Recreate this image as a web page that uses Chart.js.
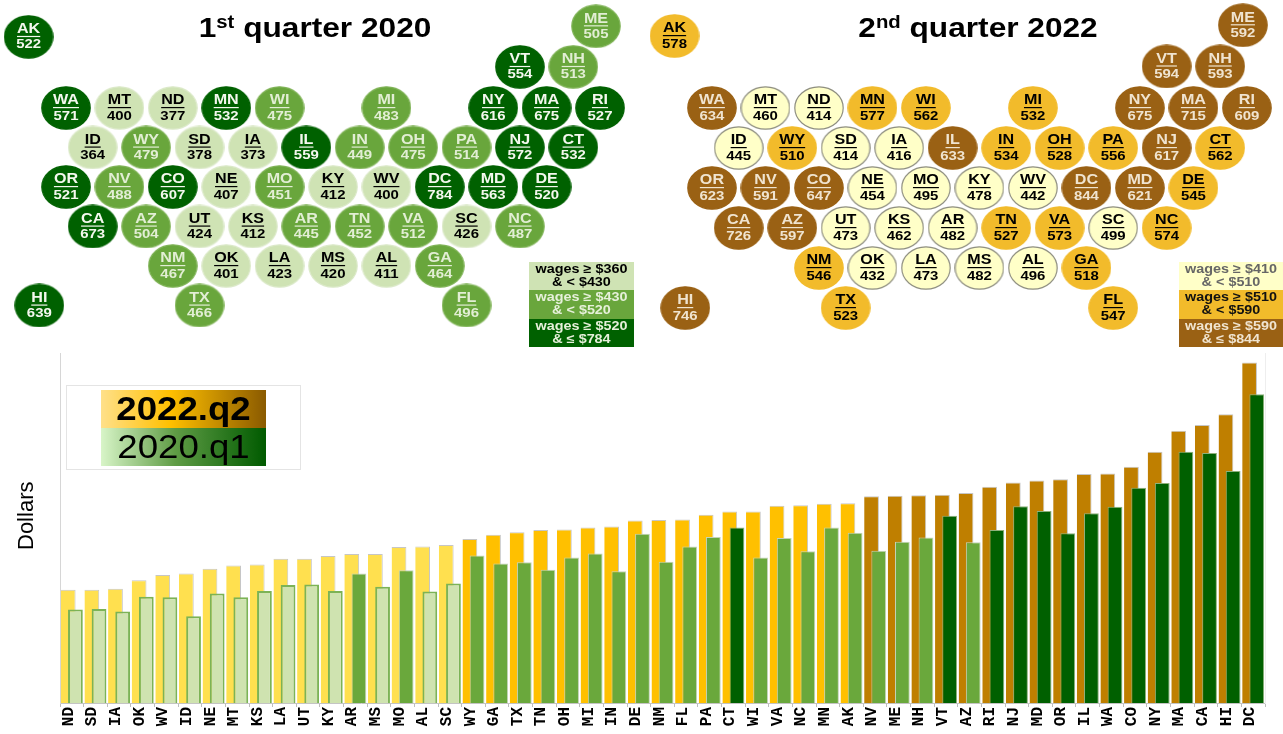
<!DOCTYPE html>
<html>
<head>
<meta charset="utf-8">
<title>Wages by state</title>
<script src="https://cdn.jsdelivr.net/npm/chart.js@4"></script>
<style>
    html, body { margin: 0; background: #fff; }
    #page { position: relative; width: 1283px; height: 734px; overflow: hidden; font-family: "Liberation Sans", Arial, sans-serif; }
    canvas { position: absolute; display: block; }
    h2 { position: absolute; top: 9px; margin: 0; width: 300px; text-align: center; font-size: 28px; line-height: 38px; font-weight: bold; color: #000; transform: scaleX(1.13); white-space: nowrap; }
    h2 sup { font-size: 18px; line-height: 0; vertical-align: 9px; }
    .wage-key { position: absolute; top: 262px; width: 105px; height: 85px; font-weight: bold; font-size: 12.5px; line-height: 13px; text-align: center; }
    .wage-key div { height: 28.33px; box-sizing: border-box; padding-top: 1px; }
    .wage-key span { display: block; transform: scaleX(1.15); white-space: nowrap; }
    #period-key { position: absolute; left: 66px; top: 385px; width: 235px; height: 85px; box-sizing: border-box; border: 1px solid #e4e4e4; }
    #period-key div { position: absolute; left: 34px; width: 165px; height: 38px; line-height: 38px; text-align: center; font-size: 33px; color: #000; }
    #period-key span { display: block; transform: scaleX(1.11); }
</style>
</head>
<body>
<div id="page">
    <canvas id="map-2020" width="640" height="350" style="left:0;top:0"></canvas>
    <canvas id="map-2022" width="643" height="350" style="left:640px;top:0"></canvas>
    <canvas id="bars" width="1283" height="384" style="left:0;top:350px"></canvas>

    <h2 style="left:165px">1<sup>st</sup> quarter 2020</h2>
    <h2 style="left:828px">2<sup>nd</sup> quarter 2022</h2>

    <div class="wage-key" style="left:529px">
        <div style="background:#cfe3b4;color:#000"><span>wages ≥ $360</span><span>&amp; &lt; $430</span></div>
        <div style="background:#69a63c;color:#e6f0da"><span>wages ≥ $430</span><span>&amp; &lt; $520</span></div>
        <div style="background:#006100;color:#e6f0da"><span>wages ≥ $520</span><span>&amp; ≤ $784</span></div>
    </div>
    <div class="wage-key" style="left:1179px;width:104px">
        <div style="background:#ffffc8;color:#666"><span>wages ≥ $410</span><span>&amp; &lt; $510</span></div>
        <div style="background:#f2bb2b;color:#111"><span>wages ≥ $510</span><span>&amp; &lt; $590</span></div>
        <div style="background:#9a6114;color:#f0e4d0"><span>wages ≥ $590</span><span>&amp; ≤ $844</span></div>
    </div>

    <div id="period-key">
        <div style="top:4px;font-weight:bold;background:linear-gradient(90deg,#ffe08a,#ffc000 42%,#8a5a00)"><span>2022.q2</span></div>
        <div style="top:42px;background:linear-gradient(90deg,#d8f5c8,#5f9c45 45%,#005a00)"><span>2020.q1</span></div>
    </div>
</div>

<script>
// Datos: estados ordenados por salario del 2o trimestre 2022
const states = ['ND','SD','IA','OK','WV','ID','NE','MT','KS','LA','UT','KY','AR','MS','MO','AL','SC',
    'WY','GA','TX','TN','OH','MI','IN','DE','NM','FL','PA','CT','WI','VA','NC','MN','AK',
    'NV','ME','NH','VT','AZ','RI','NJ','MD','OR','IL','WA','CO','NY','MA','CA','HI','DC'];
const wages2020 = [377,378,373,401,400,364,407,400,412,423,424,412,445,420,451,411,426,
    479,464,466,452,475,483,449,520,467,496,514,532,475,512,487,532,522,
    488,505,513,554,504,527,572,563,521,559,571,607,616,675,673,639,784];
const wages2022 = [414,414,416,432,442,445,454,460,462,473,473,478,482,482,495,496,499,
    510,518,523,527,528,532,534,545,546,547,556,562,562,573,574,577,578,
    591,592,593,594,597,609,617,621,623,633,634,647,675,715,726,746,844];

// Limites de las clases de salario de cada mapa
const breaks2020 = [430, 520];
const breaks2022 = [510, 590];
// En las barras estos estados aparecen en la clase media aunque el mapa los pone en la alta
const midBarStates2020 = ['DE', 'MN', 'AK'];

// Celda de cada estado en el mapa de mosaicos [columna, fila]
const tileCells = {
    AK: [-1.4, -1.8], ME: [19.85, -2.07], VT: [17, -1.04], NH: [19, -1.04],
    WA: [0, 0], MT: [2, 0], ND: [4, 0], MN: [6, 0], WI: [8, 0], MI: [12, 0], NY: [16, 0], MA: [18, 0], RI: [20, 0],
    ID: [1, 1], WY: [3, 1], SD: [5, 1], IA: [7, 1], IL: [9, 1], IN: [11, 1], OH: [13, 1], PA: [15, 1], NJ: [17, 1], CT: [19, 1],
    OR: [0, 2], NV: [2, 2], CO: [4, 2], NE: [6, 2], MO: [8, 2], KY: [10, 2], WV: [12, 2], DC: [14, 2], MD: [16, 2], DE: [18, 2],
    CA: [1, 3], AZ: [3, 3], UT: [5, 3], KS: [7, 3], AR: [9, 3], TN: [11, 3], VA: [13, 3], SC: [15, 3], NC: [17, 3],
    NM: [4, 4], OK: [6, 4], LA: [8, 4], MS: [10, 4], AL: [12, 4], GA: [14, 4],
    HI: [-1, 5], TX: [5, 5], FL: [15, 5]
};

function tierOf(value, breaks) {
    if (value < breaks[0]) return 0;
    return value < breaks[1] ? 1 : 2;
}

// Elipse para cada clase: el original esta estirado en horizontal
function makeTile(fill, stroke) {
    const c = document.createElement('canvas');
    c.width = 50;
    c.height = 44;
    const ctx = c.getContext('2d');
    ctx.beginPath();
    ctx.ellipse(25, 22, 24.2, 21.2, 0, 0, Math.PI * 2);
    ctx.fillStyle = fill;
    ctx.fill();
    ctx.lineWidth = 1.2;
    ctx.strokeStyle = stroke;
    ctx.stroke();
    return c;
}

// Texto de cada mosaico: abreviatura subrayada y salario
const tileLabels = {
    id: 'tileLabels',
    afterDatasetsDraw(chart, args, opts) {
        const ctx = chart.ctx;
        const meta = chart.getDatasetMeta(0);
        const rows = chart.data.datasets[0].data;
        ctx.save();
        ctx.textAlign = 'center';
        ctx.textBaseline = 'middle';
        meta.data.forEach((tile, i) => {
            ctx.save();
            ctx.translate(tile.x, tile.y);
            ctx.scale(1.15, 1);
            ctx.fillStyle = opts.textColors[rows[i].tier];
            ctx.font = 'bold 14px "Liberation Sans"';
            ctx.fillText(rows[i].state, 0, -7.5);
            const w = ctx.measureText(rows[i].state).width;
            ctx.fillRect(-w / 2, -1, w, 1.2);
            ctx.font = 'bold 13px "Liberation Sans"';
            ctx.fillText(String(rows[i].wage), 0, 8);
            ctx.restore();
        });
        ctx.restore();
    }
};

function drawMap(canvasId, wages, breaks, tiles, textColors, xRange, yRange) {
    const rows = states.map((state, i) => ({
        x: tileCells[state][0],
        y: tileCells[state][1],
        state: state,
        wage: wages[i],
        tier: tierOf(wages[i], breaks)
    }));
    return new Chart(document.getElementById(canvasId), {
        type: 'scatter',
        data: {
            datasets: [{
                data: rows,
                pointStyle: rows.map(r => tiles[r.tier]),
                pointRadius: 20,
                clip: false
            }]
        },
        options: {
            responsive: false,
            animation: false,
            events: [],
            layout: { padding: 0, autoPadding: false },
            plugins: { legend: { display: false }, tooltip: { enabled: false }, tileLabels: { textColors: textColors } },
            scales: {
                x: { display: false, min: xRange[0], max: xRange[1] },
                y: { display: false, reverse: true, min: yRange[0], max: yRange[1] }
            }
        },
        plugins: [tileLabels]
    });
}

drawMap('map-2020', wages2020, breaks2020,
    [makeTile('#cfe3b4', '#dbe9c8'), makeTile('#69a63c', '#7fb356'), makeTile('#006100', '#006100')],
    ['#000', '#e2eed4', '#f4f8ee'], [-2.472, 21.498], [-2.734, 6.127]);

drawMap('map-2022', wages2022, breaks2022,
    [makeTile('#ffffc8', '#8f8f80'), makeTile('#f2bb2b', '#f2bb2b'), makeTile('#9a6114', '#9a6114')],
    ['#000', '#000', '#f0e4d0'], [-2.69, 21.35], [-2.7, 6.05]);

// Barras: colores por clase
const yellowFill = ['#ffe04f', '#ffc000', '#bf7f00'];
const greenFill = ['#cfe3b0', '#6aa83c', '#006000'];
const greenBorder = ['#7cb356', '#c4d2b8', '#8fb07a'];
const greenBorderWidth = [2, 1, 1];

const tiers2020 = states.map((s, i) => midBarStates2020.includes(s) ? 1 : tierOf(wages2020[i], breaks2020));
const tiers2022 = wages2022.map(v => tierOf(v, breaks2022));

// La serie 2020 va a la derecha pero debe quedar encima de la 2022
const greenOnTop = {
    id: 'greenOnTop',
    beforeDatasetDraw(chart, args) {
        if (args.index === 1) return false;
    },
    afterDatasetsDraw(chart) {
        const area = chart.chartArea;
        const ctx = chart.ctx;
        ctx.save();
        ctx.beginPath();
        ctx.rect(area.left, area.top, area.right - area.left, area.bottom - area.top);
        ctx.clip();
        chart.getDatasetMeta(1).controller.draw();
        ctx.restore();
    }
};

new Chart(document.getElementById('bars'), {
    type: 'bar',
    data: {
        labels: states,
        datasets: [{
            label: '2022.q2',
            data: wages2022,
            backgroundColor: tiers2022.map(t => yellowFill[t]),
            borderColor: '#c6c6c6',
            borderWidth: { top: 1, right: 1, left: 0, bottom: 0 },
            categoryPercentage: 0.61,
            barPercentage: 2.05
        }, {
            label: '2020.q1',
            data: wages2020,
            backgroundColor: tiers2020.map(t => greenFill[t]),
            borderColor: tiers2020.map(t => greenBorder[t]),
            borderWidth: tiers2020.map(t => greenBorderWidth[t]),
            categoryPercentage: 0.61,
            barPercentage: 2.05
        }]
    },
    options: {
        responsive: false,
        animation: false,
        events: [],
        layout: { padding: { top: 3, right: 18, bottom: 0, left: 0 } },
        plugins: { legend: { display: false }, tooltip: { enabled: false } },
        scales: {
            x: {
                grid: { drawOnChartArea: false, tickLength: 4, color: '#bdbdbd' },
                border: { color: '#c4c4c4' },
                ticks: {
                    autoSkip: false,
                    minRotation: 90,
                    maxRotation: 90,
                    padding: 0,
                    labelOffset: -3,
                    color: '#000',
                    font: { family: '"Liberation Mono"', weight: 'bold', size: 16 }
                },
                afterFit: scale => { scale.height = 31; }
            },
            y: {
                min: 200,
                max: 862,
                grid: { display: false },
                border: { color: '#d6d6d6' },
                ticks: { display: false },
                title: {
                    display: true,
                    text: '    Dollars',
                    color: '#000',
                    padding: { top: 14, bottom: 0 },
                    font: { family: '"Liberation Sans"', size: 22 }
                },
                afterFit: scale => { scale.width = 60; }
            },
            right: {
                position: 'right',
                min: 200,
                max: 862,
                grid: { display: false },
                border: { color: '#eeeeee' },
                ticks: { display: false },
                afterFit: scale => { scale.width = 0; }
            }
        }
    },
    plugins: [greenOnTop]
});
</script>
</body>
</html>
